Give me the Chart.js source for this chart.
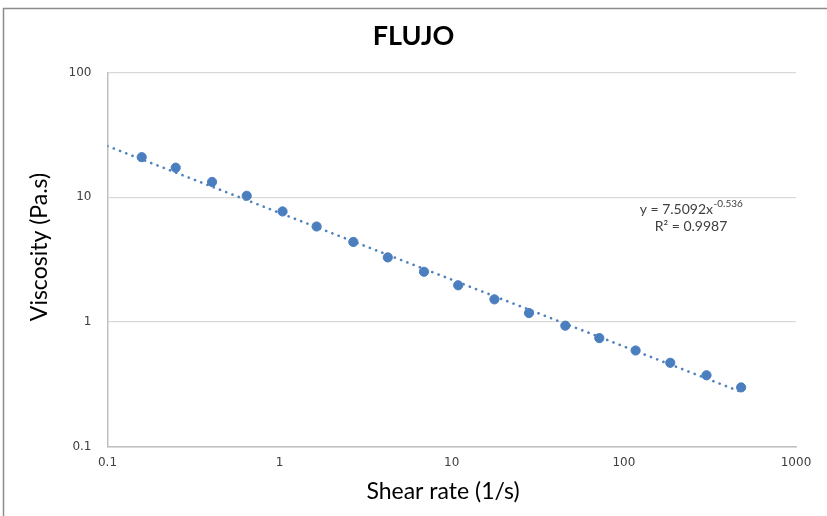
<!DOCTYPE html>
<html>
<head>
<meta charset="utf-8">
<script src="https://cdn.jsdelivr.net/npm/chart.js@4/dist/chart.umd.min.js"></script>
<style>
  html, body { margin: 0; padding: 0; background: #fff; }
  #wrap { position: relative; width: 827px; height: 516px; }
</style>
</head>
<body>
<div id="wrap"><canvas id="c" width="827" height="516"></canvas></div>
<script>
// ---- Data ----
const shearRate = [0.158, 0.249, 0.405, 0.644, 1.04, 1.64, 2.68, 4.25, 6.90, 10.9, 17.7, 28.1, 45.7, 72.0, 117, 186, 302, 480];
const viscosity = [21.0, 17.3, 13.3, 10.3, 7.71, 5.84, 4.39, 3.30, 2.53, 1.97, 1.52, 1.18, 0.935, 0.743, 0.591, 0.471, 0.374, 0.299];
// Power trendline endpoints (straight in log-log space)
const trendX = [0.1, 500];
const trendY = [25.8, 0.269];
const xTicks = [0.1, 1, 10, 100, 1000];
const yTicks = [0.1, 1, 10, 100];
const titleText = 'FLUJO';
const xTitle = 'Shear rate (1/s)';
const yTitle = 'Viscosity (Pa.s)';
const eqLine1 = 'y = 7.5092x';
const eqExp = '-0.536';
const eqLine2 = 'R² = 0.9987';

const toXY = (xs, ys) => xs.map((x, i) => ({ x: x, y: ys[i] }));
const titleFont = '23px Lato, "Liberation Sans", sans-serif';

const framePlugin = {
  id: 'frame',
  afterDraw(chart) {
    const ctx = chart.ctx;
    ctx.save();
    ctx.strokeStyle = '#8c8c8c';
    ctx.lineWidth = 1.5;
    ctx.beginPath();
    ctx.moveTo(3.5, 516);
    ctx.lineTo(3.5, 8.5);
    ctx.lineTo(827, 8.5);
    ctx.stroke();

    // axis titles (placed as in the reference, slightly off the plot centre)
    ctx.fillStyle = '#000';
    ctx.font = titleFont;
    ctx.textAlign = 'center';
    ctx.textBaseline = 'middle';
    ctx.fillText(xTitle, 443, 492);
    ctx.save();
    ctx.translate(40, 247);
    ctx.rotate(-Math.PI / 2);
    ctx.fillText(yTitle, 0, 0);
    ctx.restore();

    // trendline equation label
    ctx.fillStyle = '#404040';
    ctx.textBaseline = 'middle';
    const big = '14px Lato, "Liberation Sans", sans-serif';
    const small = '10px Lato, "Liberation Sans", sans-serif';
    ctx.font = big;
    const w1 = ctx.measureText(eqLine1).width;
    ctx.font = small;
    const w2 = ctx.measureText(eqExp).width;
    const cx = 691;
    const start = cx - (w1 + w2) / 2;
    ctx.font = big;
    ctx.textAlign = 'left';
    ctx.fillText(eqLine1, start, 209);
    ctx.font = small;
    ctx.fillText(eqExp, start + w1 + 0.5, 204);
    ctx.font = big;
    ctx.textAlign = 'center';
    ctx.fillText(eqLine2, cx, 226);
    ctx.restore();
  }
};

new Chart(document.getElementById('c'), {
  type: 'scatter',
  data: {
    datasets: [
      {
        label: 'Viscosity',
        data: toXY(shearRate, viscosity),
        backgroundColor: '#4a7ebf',
        borderColor: '#4a7ebf',
        pointRadius: 4.6,
        pointHoverRadius: 4.6,
        order: 2
      },
      {
        label: 'Trend',
        type: 'line',
        data: toXY(trendX, trendY),
        borderColor: '#4f81bd',
        borderWidth: 2.6,
        borderDash: [0.1, 6.6],
        borderCapStyle: 'round',
        pointRadius: 0,
        fill: false,
        order: 1
      }
    ]
  },
  options: {
    responsive: false,
    animation: false,
    devicePixelRatio: 1,
    layout: { padding: { left: 0, right: 0, top: 0, bottom: 0 } },
    plugins: {
      legend: { display: false },
      tooltip: { enabled: false },
      title: {
        display: true,
        text: titleText,
        color: '#000',
        font: { family: 'Lato, "Liberation Sans", sans-serif', size: 27, weight: 'bold', lineHeight: 1.2 },
        padding: { top: 20, bottom: 20.3 }
      }
    },
    scales: {
      x: {
        type: 'logarithmic',
        min: 0.1,
        max: 1000,
        afterBuildTicks: (s) => { s.ticks = xTicks.map(v => ({ value: v })); },
        afterFit: (s) => { s.height = 69.3; },
        ticks: {
          autoSkip: false,
          maxRotation: 0,
          padding: 9,
          color: '#404040',
          font: { family: '"DejaVu Sans", sans-serif', size: 12 },
          callback: (v) => String(v)
        },
        grid: { display: false, drawTicks: false },
        border: { display: true, color: '#bfbfbf', width: 1.5 },
        title: { display: false, text: xTitle }
      },
      y: {
        type: 'logarithmic',
        min: 0.1,
        max: 100,
        afterBuildTicks: (s) => { s.ticks = yTicks.map(v => ({ value: v })); },
        afterFit: (s) => { s.width = 107.5; },
        ticks: {
          autoSkip: false,
          padding: 16,
          color: '#404040',
          font: { family: '"DejaVu Sans", sans-serif', size: 12 },
          callback: (v) => String(v)
        },
        grid: { display: true, drawTicks: false, color: '#d9d9d9', lineWidth: 1.3 },
        border: { display: true, color: '#bfbfbf', width: 1.5 },
        title: { display: false, text: yTitle }
      },
      rightPad: {
        type: 'linear',
        position: 'right',
        display: true,
        afterFit: (s) => { s.width = 31; },
        ticks: { display: false },
        grid: { display: false, drawTicks: false },
        border: { display: false }
      }
    }
  },
  plugins: [framePlugin]
});
</script>
</body>
</html>
